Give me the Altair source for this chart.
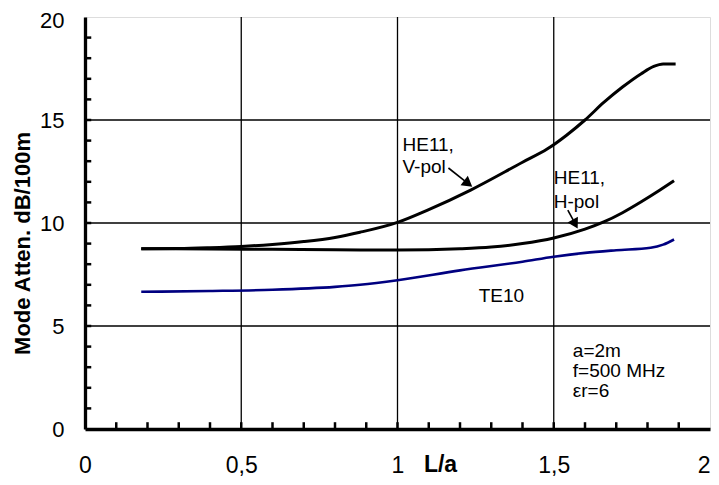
import altair as alt
import pandas as pd

# ---- data ----
vpol_x = [0.18, 0.3, 0.4, 0.5, 0.6, 0.7, 0.8, 0.88, 1.0, 1.1, 1.234, 1.4, 1.48, 1.54, 1.6, 1.66, 1.72, 1.78, 1.82, 1.85, 1.89]
vpol_y = [8.75, 8.76, 8.8, 8.86, 8.96, 9.1, 9.3, 9.55, 10.03, 10.65, 11.6, 12.95, 13.6, 14.25, 15.0, 15.85, 16.6, 17.25, 17.6, 17.72, 17.72]

hpol_x = [0.18, 0.4, 0.6, 0.8, 1.0, 1.2, 1.3, 1.4, 1.5, 1.6, 1.66, 1.72, 1.78, 1.84, 1.885]
hpol_y = [8.75, 8.74, 8.72, 8.7, 8.69, 8.75, 8.83, 9.0, 9.27, 9.7, 10.05, 10.5, 11.03, 11.6, 12.05]

te10_x = [0.18, 0.4, 0.6, 0.8, 0.88, 1.0, 1.2, 1.4, 1.5, 1.6, 1.7, 1.81, 1.85, 1.885]
te10_y = [6.66, 6.7, 6.76, 6.9, 7.0, 7.22, 7.7, 8.12, 8.36, 8.55, 8.68, 8.8, 8.95, 9.2]

x_major = [0, 0.5, 1, 1.5, 2]
y_major = [0, 5, 10, 15, 20]
x_grid = [0.5, 1, 1.5]
y_grid = [5, 10, 15]
x_minor = [i / 10 for i in range(1, 20)]
y_minor = list(range(1, 20))

ann_text = ["HE11,", "V-pol", "HE11,", "H-pol", "TE10", "a=2m", "f=500 MHz", "\u03b5r=6"]
ann_x = [1.016, 1.016, 1.5, 1.5, 1.26, 1.561, 1.561, 1.561]
ann_y = [13.5, 12.43, 11.89, 10.73, 6.17, 3.5, 2.52, 1.55]

arrow_x = [1.163, 1.545]
arrow_y = [12.67, 10.63]
arrow_x2 = [1.215, 1.562]
arrow_y2 = [12.05, 10.15]
head_x = [1.222, 1.566]
head_y = [11.96, 10.02]
head_angle = [128, 151]

FONT = "Liberation Sans"

xs = alt.Scale(domain=[0, 2], nice=False)
ys = alt.Scale(domain=[0, 20], nice=False)

lines_df = pd.concat([
    pd.DataFrame({"x": vpol_x, "y": vpol_y, "s": "V"}),
    pd.DataFrame({"x": hpol_x, "y": hpol_y, "s": "H"}),
])
te_df = pd.DataFrame({"x": te10_x, "y": te10_y})

xgrid_df = pd.DataFrame({"x": x_grid})
ygrid_df = pd.DataFrame({"y": y_grid})
xminor_df = pd.DataFrame({"x": x_minor, "y0": 0, "y1": 0.33})
yminor_df = pd.DataFrame({"y": y_minor, "x0": 0, "x1": 0.02})
ann_df = pd.DataFrame({"x": ann_x, "y": ann_y, "t": ann_text})
arrow_df = pd.DataFrame({"x": arrow_x, "y": arrow_y, "x2": arrow_x2, "y2": arrow_y2})
head_df = pd.DataFrame({"x": head_x, "y": head_y, "a": head_angle})

base_x = alt.X("x:Q", scale=xs, axis=alt.Axis(
    values=x_major, labelExpr="replace(toString(datum.value), '.', ',')",
    labelFontSize=23, labelFont=FONT, labelColor="black", labelPadding=25,
    labelAlign={"condition": {"test": "datum.value == 2", "value": "right"}, "value": "center"},
    ticks=False, tickSize=0, grid=False, domainColor="black", domainWidth=3.3,
    title="L/a", titleFont=FONT, titleFontSize=23, titleFontWeight="bold",
    titleColor="black", titleX=355, titleY=42, titleAlign="center",
    titleBaseline="alphabetic", labelFlush=False, labelOverlap=False))
base_y = alt.Y("y:Q", scale=ys, axis=alt.Axis(
    values=y_major, labelFontSize=22, labelFont=FONT, labelColor="black",
    labelPadding=21, ticks=False, tickSize=0, grid=False,
    labelOffset={"condition": {"test": "datum.value == 20", "value": 3}, "value": 0},
    domainColor="black", domainWidth=3.3,
    title="Mode Atten. dB/100m", titleFont=FONT, titleFontSize=22,
    titleFontWeight="bold", titleColor="black", titleAngle=270,
    titleX=-63, titleY=226, titleAlign="center", titleBaseline="middle",
    labelFlush=False, labelOverlap=False))

xgrid = alt.Chart(xgrid_df).mark_rule(color="black", strokeWidth=1.3).encode(
    x=alt.X("x:Q", scale=xs), y=alt.value(0), y2=alt.value(412))
ygrid = alt.Chart(ygrid_df).mark_rule(color="black", strokeWidth=1.3).encode(
    y=alt.Y("y:Q", scale=ys), x=alt.value(0), x2=alt.value(625))

xminor = alt.Chart(xminor_df).mark_rule(color="black", strokeWidth=2.5).encode(
    x=alt.X("x:Q", scale=xs), y=alt.Y("y0:Q", scale=ys), y2="y1:Q")
yminor = alt.Chart(yminor_df).mark_rule(color="black", strokeWidth=2.5).encode(
    y=alt.Y("y:Q", scale=ys), x=alt.X("x0:Q", scale=xs), x2="x1:Q")

black_lines = alt.Chart(lines_df).mark_line(
    color="black", strokeWidth=3, interpolate="monotone").encode(
    x=base_x, y=base_y, detail="s:N")
te_line = alt.Chart(te_df).mark_line(
    color="#000080", strokeWidth=2.6, interpolate="monotone").encode(
    x=alt.X("x:Q", scale=xs), y=alt.Y("y:Q", scale=ys))

ann = alt.Chart(ann_df).mark_text(
    align="left", baseline="alphabetic", font=FONT, fontSize=19, color="black").encode(
    x=alt.X("x:Q", scale=xs), y=alt.Y("y:Q", scale=ys), text="t:N")

arrows = alt.Chart(arrow_df).mark_rule(color="black", strokeWidth=1.6).encode(
    x=alt.X("x:Q", scale=xs), y=alt.Y("y:Q", scale=ys), x2="x2:Q", y2="y2:Q")
heads = alt.Chart(head_df).mark_point(
    shape="triangle", filled=True, color="black", size=140, opacity=1).encode(
    x=alt.X("x:Q", scale=xs), y=alt.Y("y:Q", scale=ys), angle=alt.Angle("a:Q", scale=None))

chart = alt.layer(
    xgrid, ygrid, te_line, black_lines, xminor, yminor, arrows, heads, ann
).properties(
    width=625, height=412,
    autosize=alt.AutoSizeParams(type="none"),
    padding={"left": 77, "top": 9, "right": 1, "bottom": 48},
).configure_view(stroke="#888888", strokeWidth=2).configure(background="white")

chart.save("out.html", embed_options={"renderer": "svg", "actions": False})
